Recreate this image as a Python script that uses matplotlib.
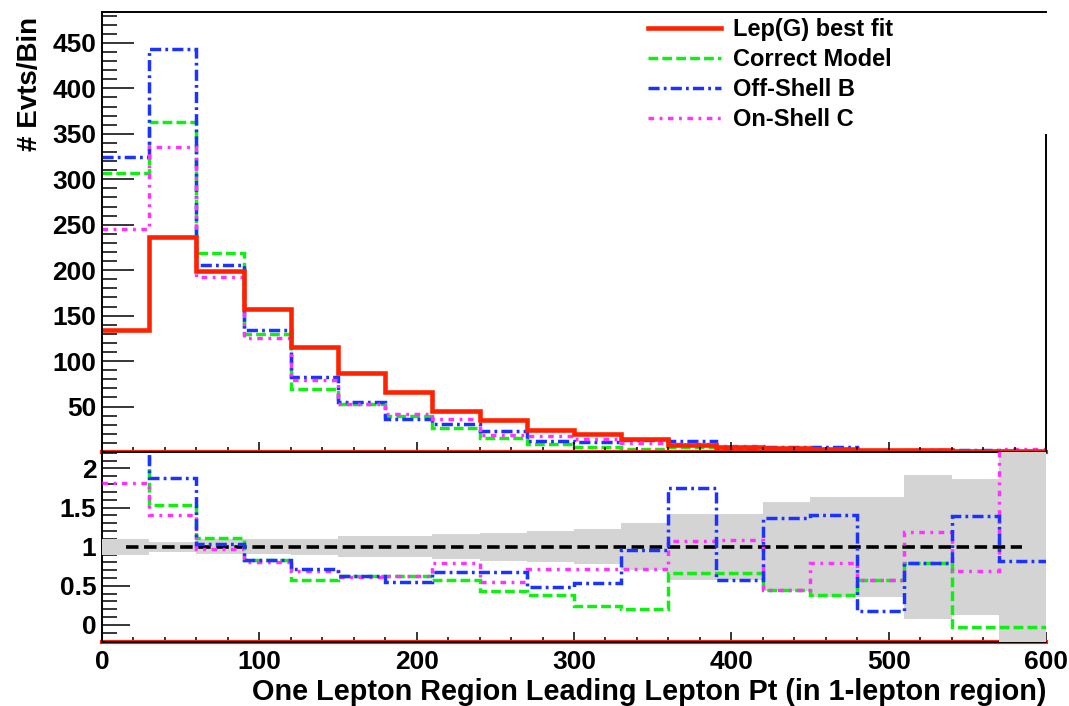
import numpy as np
import matplotlib
matplotlib.use("Agg")
import matplotlib.pyplot as plt
from matplotlib.ticker import MultipleLocator

plt.rcParams['font.family'] = ['Liberation Sans', 'DejaVu Sans']
plt.rcParams['font.weight'] = 'bold'
plt.rcParams['lines.scale_dashes'] = False

# bins of leading lepton pt
bin_edges = np.arange(0, 601, 30)

# events per bin (upper pad)
lep_best = [134, 236, 199, 157, 116, 87, 66, 45, 35, 24, 20, 14, 8, 6, 4.5, 3.5, 2.5, 2, 1.5, 1]
correct = [307, 363, 219, 130, 69, 53, 40, 26, 15, 9, 5, 3, 5, 4, 2, 1.3, 1.5, 1.4, 0, 0]
offshell_b = [325, 443, 206, 134, 83, 55, 36, 31, 23.5, 12, 10.5, 13.4, 12, 3.5, 6, 5, 0.5, 2, 2, 1]
onshell_c = [245, 336, 193, 125, 79, 53, 42, 36, 19, 17.5, 14.3, 10, 8.6, 6.5, 2, 2.8, 1.5, 2.4, 1, 3]

# ratio to best fit (lower pad)
correct_r = [2.29, 1.53, 1.11, 0.83, 0.575, 0.62, 0.62, 0.58, 0.43, 0.38, 0.24, 0.21, 0.66, 0.66, 0.45, 0.38, 0.58, 0.79, -0.03, -0.03]
offshell_r = [2.43, 1.88, 1.03, 0.83, 0.72, 0.63, 0.55, 0.68, 0.68, 0.49, 0.53, 0.96, 1.75, 0.58, 1.37, 1.40, 0.18, 0.79, 1.39, 0.82]
onshell_r = [1.82, 1.40, 0.97, 0.80, 0.69, 0.61, 0.63, 0.79, 0.55, 0.72, 0.72, 0.72, 1.07, 1.09, 0.45, 0.79, 0.58, 1.19, 0.69, 3.0]
band_err = [0.10, 0.065, 0.095, 0.095, 0.10, 0.135, 0.135, 0.16, 0.18, 0.20, 0.22, 0.30, 0.42, 0.42, 0.57, 0.64, 0.64, 0.92, 0.87, 5.0]

labels = ["Lep(G) best fit", "Correct Model", "Off-Shell B", "On-Shell C"]
c_red, c_green, c_blue, c_mag = '#ff2200', '#11ee11', '#1a33ff', '#ff33ff'
ls_green = (0, (7, 3))
ls_blue = (0, (8, 3, 2, 3))
ls_mag = (0, (4, 4, 2, 4))
lw_d = 2.5

fig = plt.figure(figsize=(10.69, 7.06), dpi=100)
ax1 = fig.add_axes([0.0954, 0.3598, 0.8831, 0.6232])
ax2 = fig.add_axes([0.0954, 0.0907, 0.8831, 0.2691])

# upper pad
ax1.axhline(0, color=c_red, lw=3, zorder=2.4, clip_on=False)
ax1.stairs(correct, bin_edges, baseline=None, color=c_green, lw=lw_d, ls=ls_green, label=labels[1])
ax1.stairs(offshell_b, bin_edges, baseline=None, color=c_blue, lw=lw_d, ls=ls_blue, label=labels[2])
ax1.stairs(onshell_c, bin_edges, baseline=None, color=c_mag, lw=lw_d, ls=ls_mag, label=labels[3])
ax1.stairs(lep_best, bin_edges, baseline=None, color=c_red, lw=3.3, label=labels[0])

ax1.set_xlim(0, 600)
ax1.set_ylim(0, 484)
ax1.set_yticks(range(50, 451, 50))
ax1.yaxis.set_minor_locator(MultipleLocator(10))
ax1.xaxis.set_major_locator(MultipleLocator(100))
ax1.xaxis.set_minor_locator(MultipleLocator(20))
ax1.tick_params(axis='x', which='both', direction='in', labelbottom=False, width=1.1)
ax1.tick_params(axis='x', which='major', length=7)
ax1.tick_params(axis='x', which='minor', length=3.5)
ax1.tick_params(axis='y', which='both', direction='in', width=1.1, labelsize=19, pad=4)
ax1.tick_params(axis='y', which='major', length=23)
ax1.tick_params(axis='y', which='minor', length=11)
for s in ax1.spines.values():
    s.set_linewidth(1.4)
ax1.spines['right'].set_bounds(0, 349)
ax1.set_ylabel('# Evts/Bin', loc='top', fontsize=20, fontweight='bold')
ax1.yaxis.set_label_coords(-0.062, 0.99)

h, l = ax1.get_legend_handles_labels()
order = [l.index(t) for t in labels]
ax1.legend([h[i] for i in order], [l[i] for i in order], loc='upper left',
           bbox_to_anchor=(648 / 1069, 1 - 18 / 706), bbox_transform=fig.transFigure,
           frameon=False, prop={'size': 17, 'weight': 'bold'}, handlelength=3.1,
           handletextpad=0.5, labelspacing=0.3, borderpad=0, borderaxespad=0)

# lower pad
centers = bin_edges[:-1] + 15
lo = np.array([1 - e for e in band_err])
hi = np.array([1 + e for e in band_err])
ax2.stairs(hi, bin_edges, baseline=lo, fill=True, color='#d4d4d4', lw=0, zorder=2.6)
ax2.plot([0, 600], [-0.217, -0.217], color=c_red, lw=3, zorder=2.4, clip_on=False)
ax2.plot(centers[[0, -1]], [1, 1], color='black', lw=2.6, ls=(0, (9, 4)), zorder=3)
ax2.stairs(correct_r, bin_edges, baseline=None, color=c_green, lw=lw_d, ls=ls_green, zorder=3)
ax2.stairs(onshell_r, bin_edges, baseline=None, color=c_mag, lw=lw_d, ls=ls_mag, zorder=3)
ax2.stairs(offshell_r, bin_edges, baseline=None, color=c_blue, lw=lw_d, ls=ls_blue, zorder=3)

ax2.set_xlim(0, 600)
ax2.set_ylim(-0.217, 2.21)
ax2.set_yticks([0, 0.5, 1, 1.5, 2])
ax2.set_yticklabels(['0', '0.5', '1', '1.5', '2'])
ax2.yaxis.set_minor_locator(MultipleLocator(0.1))
ax2.xaxis.set_major_locator(MultipleLocator(100))
ax2.xaxis.set_minor_locator(MultipleLocator(20))
ax2.tick_params(axis='x', which='both', direction='in', width=1.1, labelsize=19, pad=6)
ax2.tick_params(axis='x', which='major', length=7)
ax2.tick_params(axis='x', which='minor', length=3.5)
ax2.tick_params(axis='y', which='both', direction='in', width=1.1, labelsize=19, pad=4)
ax2.tick_params(axis='y', which='major', length=20)
ax2.tick_params(axis='y', which='minor', length=11)
for s in ax2.spines.values():
    s.set_linewidth(1.4)
ax2.spines['right'].set_visible(False)
ax2.set_xlabel('One Lepton Region Leading Lepton Pt (in 1-lepton region)', loc='right',
               fontsize=20.8, fontweight='bold', labelpad=3)

fig.savefig('out.png', dpi=100)
